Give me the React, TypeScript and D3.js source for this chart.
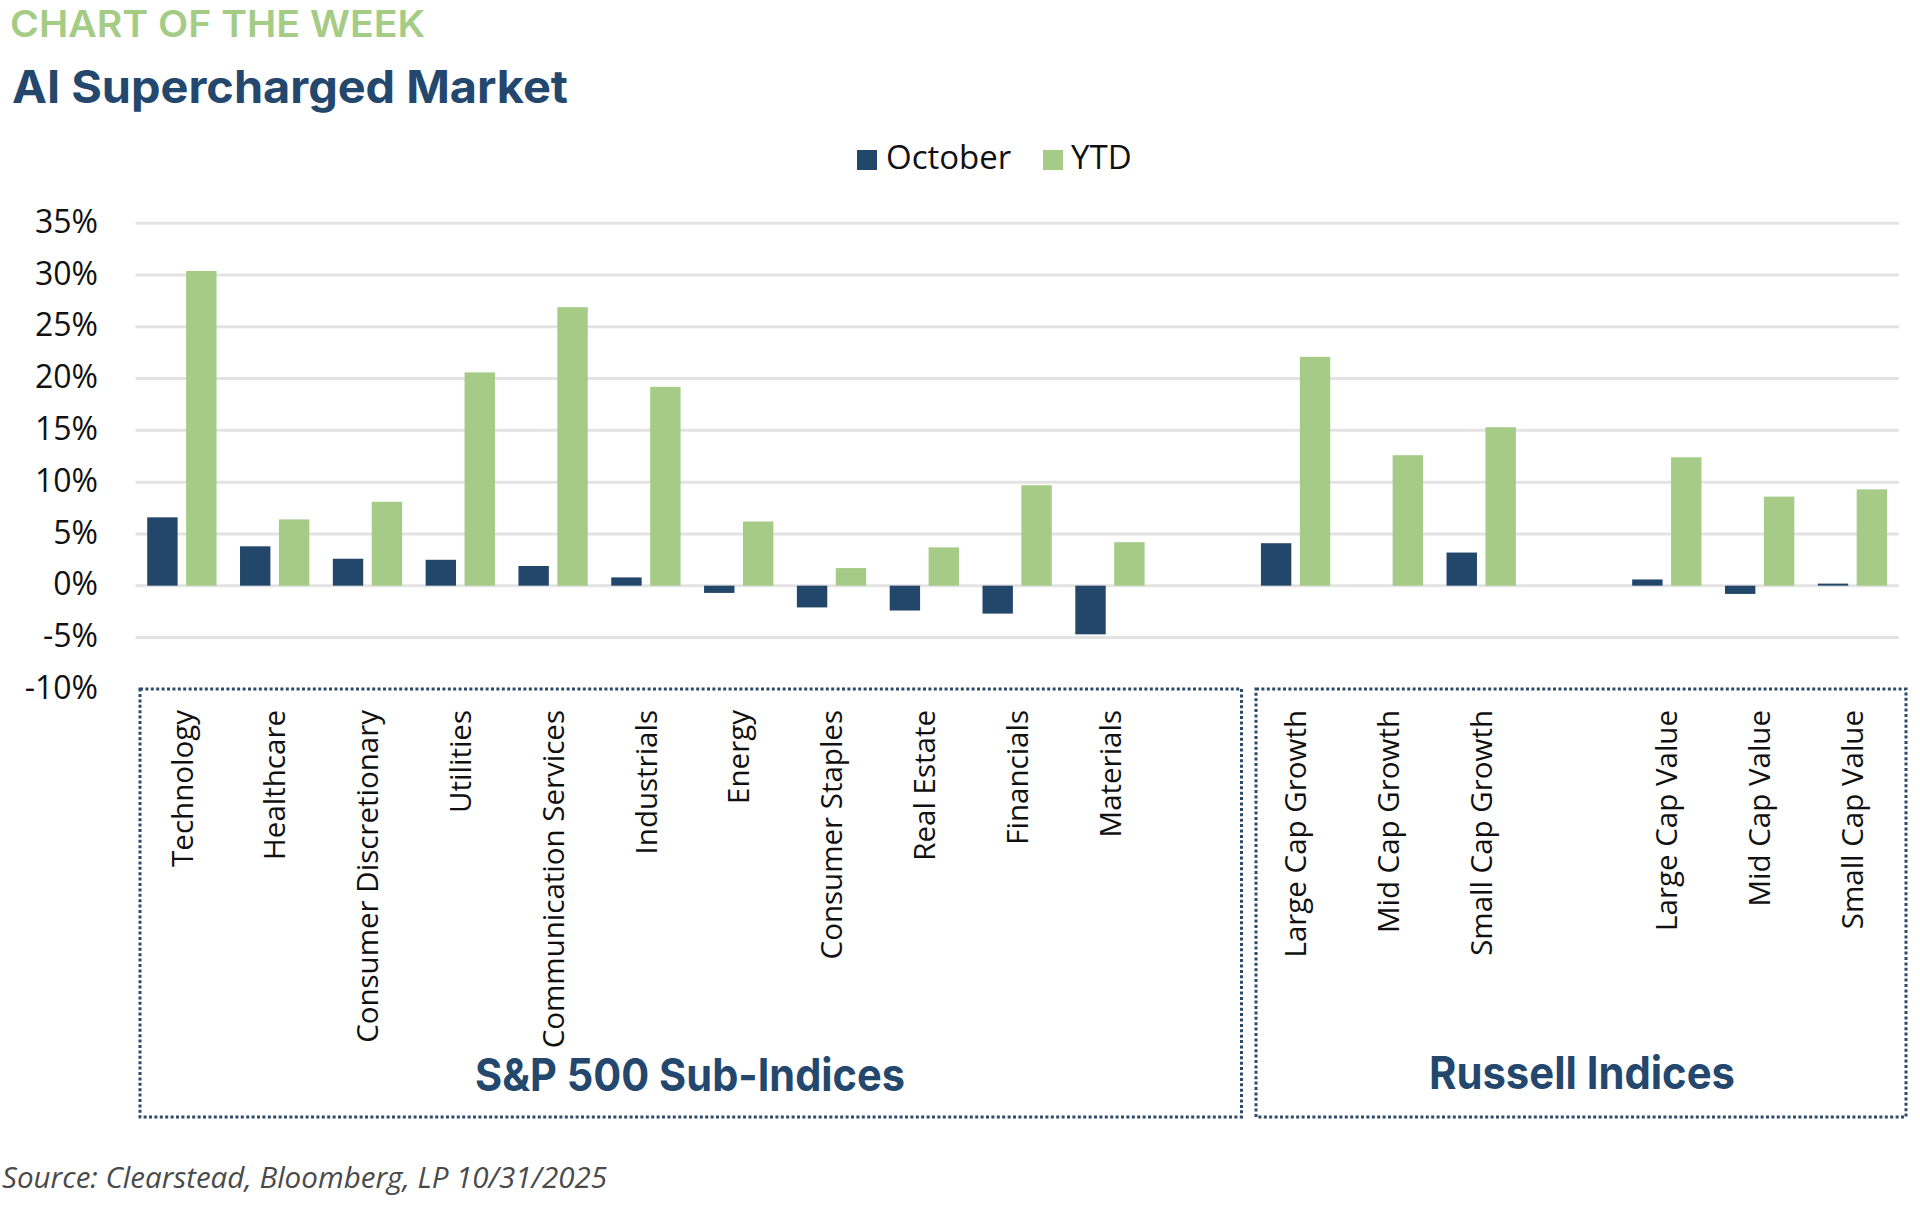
import React from "react";
import * as d3 from "d3";

const categories = [
  "Technology", "Healthcare", "Consumer Discretionary", "Utilities", "Communication Services",
  "Industrials", "Energy", "Consumer Staples", "Real Estate", "Financials", "Materials",
  "", "Large Cap Growth", "Mid Cap Growth", "Small Cap Growth", " ", "Large Cap Value",
  "Mid Cap Value", "Small Cap Value",
];
const october: (number | null)[] = [
  6.6, 3.8, 2.6, 2.5, 1.9, 0.8, -0.7, -2.1, -2.4, -2.7, -4.7,
  null, 4.1, 0.0, 3.2, null, 0.6, -0.8, 0.2,
];
const ytd: (number | null)[] = [
  30.4, 6.4, 8.1, 20.6, 26.9, 19.2, 6.2, 1.7, 3.7, 9.7, 4.2,
  null, 22.1, 12.6, 15.3, null, 12.4, 8.6, 9.3,
];
const yTicks = [35, 30, 25, 20, 15, 10, 5, 0, -5, -10];
const seriesNames = ["October", "YTD"];
const groups = [
  { label: "S&P 500 Sub-Indices", first: 0, last: 10 },
  { label: "Russell Indices", first: 12, last: 18 },
];

const NAVY = "#23476b";
const GREEN = "#a5cb86";
const TITLE_NAVY = "#24476d";

export default function App() {
  const x = d3.scaleBand<number>().domain(d3.range(categories.length)).range([135.5, 1898.9]).padding(0);
  const y = d3.scaleLinear().domain([-10, 35]).range([689.2, 223.3]);
  const bw = 30.4;
  const cx = (i: number) => (x(i) as number) + x.bandwidth() / 2;

  const bar = (v: number | null, i: number, offset: number, color: string, key: string) => {
    if (v === null) return null;
    const y0 = y(0);
    const y1 = y(v);
    return (
      <rect key={key} x={cx(i) + offset} y={Math.min(y0, y1)} width={bw} height={Math.abs(y1 - y0)} fill={color} />
    );
  };

  return (
    <div style={{ position: "absolute", left: 0, top: 0 }}>
      <svg width={1920} height={1205} style={{ display: "block", background: "#fff" }}>
        <text x={10} y={37} fontFamily="Inter, Lato, sans-serif" fontWeight={600} fontSize={37} fill="#a4cc85" textLength={415} lengthAdjust="spacingAndGlyphs">CHART OF THE WEEK</text>
        <text x={12} y={103} fontFamily="Inter, Lato, sans-serif" fontWeight={700} fontSize={45} fill={TITLE_NAVY} textLength={556} lengthAdjust="spacingAndGlyphs">AI Supercharged Market</text>

        {/* legend */}
        <rect x={857} y={150} width={20} height={20} fill={NAVY} />
        <text x={886} y={169} fontFamily="'Open Sans', sans-serif" fontSize={33} fill="#111">{seriesNames[0]}</text>
        <rect x={1043} y={150} width={20} height={20} fill={GREEN} />
        <text x={1071} y={169} fontFamily="'Open Sans', sans-serif" fontSize={33} fill="#111">{seriesNames[1]}</text>

        {/* gridlines */}
        {yTicks.filter((t) => t > -10).map((t) => (
          <line key={t} x1={135.5} x2={1898.9} y1={y(t)} y2={y(t)} stroke="#e3e3e3" strokeWidth={3} />
        ))}
        {yTicks.map((t) => (
          <text key={"l" + t} x={98} y={y(t)} dy="0.3em" textAnchor="end" fontFamily="'Open Sans', sans-serif" fontSize={32} fill="#111">
            {t}%
          </text>
        ))}

        {/* bars */}
        {october.map((v, i) => bar(v, i, -34.7, NAVY, "o" + i))}
        {ytd.map((v, i) => bar(v, i, 4.2, GREEN, "y" + i))}

        {/* category labels */}
        {categories.map((c, i) =>
          c.trim() === "" ? null : (
            <text key={"c" + i} transform={`translate(${cx(i)},710) rotate(-90)`} dy="0.36em" textAnchor="end" fontFamily="'Open Sans', sans-serif" fontSize={29.5} fill="#111">
              {c}
            </text>
          )
        )}

        {/* group boxes */}
        <rect x={140} y={689} width={1101.5} height={428} fill="none" stroke="#2c4a6b" strokeWidth={3} strokeDasharray="3 2.4" />
        <rect x={1256} y={689} width={650} height={428} fill="none" stroke="#2c4a6b" strokeWidth={3} strokeDasharray="3 2.4" />
        <text x={690} y={1091} textAnchor="middle" fontFamily="Inter, Lato, sans-serif" fontWeight={700} fontSize={45} fill={TITLE_NAVY} textLength={430} lengthAdjust="spacingAndGlyphs">{groups[0].label}</text>
        <text x={1582} y={1089} textAnchor="middle" fontFamily="Inter, Lato, sans-serif" fontWeight={700} fontSize={45} fill={TITLE_NAVY} textLength={306} lengthAdjust="spacingAndGlyphs">{groups[1].label}</text>

        <text x={2} y={1188} fontFamily="'Open Sans', sans-serif" fontStyle="italic" fontSize={30} fill="#4a4a4a" textLength={605} lengthAdjust="spacingAndGlyphs">Source: Clearstead, Bloomberg, LP 10/31/2025</text>
      </svg>
    </div>
  );
}
